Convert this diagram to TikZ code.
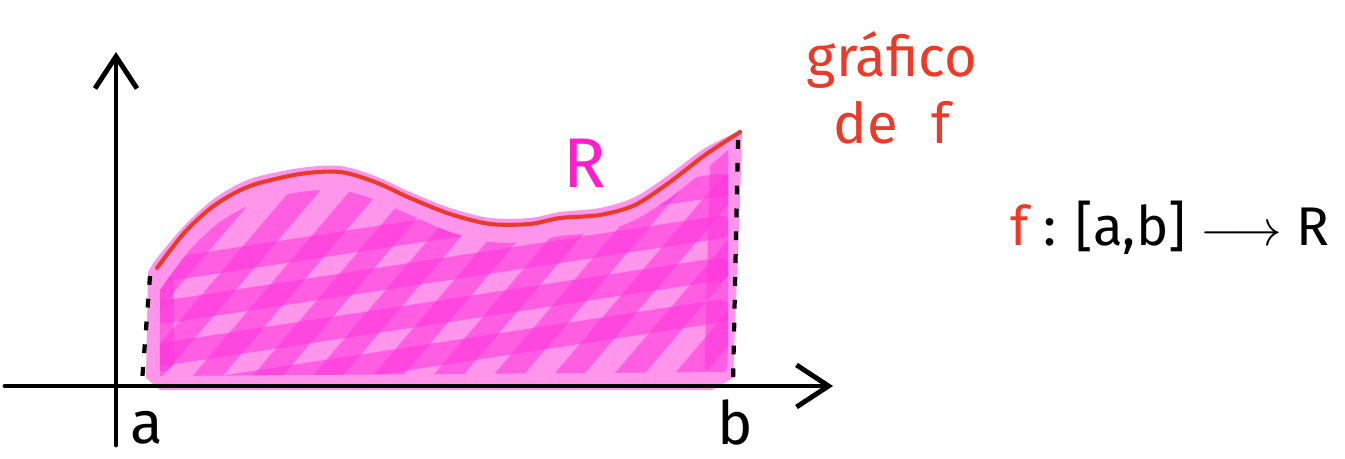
\documentclass[tikz,border=0pt]{standalone}
\usepackage{fontspec}
\setmainfont{Fira Sans}
\usepackage{tikz}
\usetikzlibrary{
  arrows.meta,
  positioning
}
\definecolor{areapink}{RGB}{255, 150, 236}
\definecolor{scribblepink}{RGB}{255, 55, 220}
\definecolor{curvered}{RGB}{236, 58, 40}
\definecolor{labelmagenta}{RGB}{255, 30, 205}

\tikzset{
  axisline/.style={line width=1.4pt, line cap=round, -{Straight Barb[length=3.2mm, width=4.2mm]}},
  boundline/.style={line width=1.2pt, dash pattern=on 2.5pt off 4pt},
  scribble/.style={scribblepink, opacity=0.6, line width=6.5pt, line cap=round, line join=round},
  handlabel/.style={inner sep=0pt, font=\fontsize{17}{17}\selectfont}
}

\begin{document}
\begin{tikzpicture}[x=0.1mm, y=-0.1mm]
  \useasboundingbox (0, 0) rectangle (1345, 459);
  % region under the graph
  \fill[areapink] plot[smooth] coordinates {(148, 272) (157, 258) (185, 225) (215, 198) (250, 179) (300, 168) (340, 166) (375, 176) (410, 192) (450, 208) (490, 218) (530, 218) (560, 212) (600, 208) (635, 197) (670, 174) (705, 148) (742, 130)}
    -- (740, 200) -- (733, 378) -- (712, 390) -- (160, 390) -- (146, 378) -- cycle;
  \begin{scope}
    \clip plot[smooth] coordinates {(160, 290) (190, 250) (220, 222) (255, 203) (300, 192) (340, 190) (375, 200) (410, 215) (450, 232) (490, 242) (530, 242) (560, 236) (600, 232) (635, 220) (670, 198) (705, 170) (728, 150)}
      -- (728, 372) -- (160, 376) -- cycle;
    \foreach \x in {80, 140, ..., 700} {
      \draw[scribble] (\x, 385) -- (\x+170, 185);
    }
    \foreach \y in {230, 272, ..., 375} {
      \draw[scribble] (165, \y+40) -- (720, \y-45);
    }
    \draw[scribble] (163, 360) -- (163, 285);
    \draw[scribble] (716, 365) -- (722, 150);
  \end{scope}
  % graph of f
  \draw[curvered, line width=1.15pt, line cap=round] plot[smooth] coordinates {(157, 268) (185, 232) (215, 205) (250, 186) (300, 174) (340, 172) (375, 182) (410, 198) (450, 214) (490, 224) (530, 224) (560, 218) (600, 215) (635, 205) (670, 182) (705, 155) (740, 132)};
  % axes
  \coordinate (xstart) at (5, 386);
  \coordinate (xend) at (833, 386);
  \coordinate (ystart) at (116, 445);
  \coordinate (yend) at (116, 52);
  \draw[axisline] (xstart) -- (xend);
  \draw[axisline] (ystart) -- (yend);
  % bounds a and b
  \coordinate (atop) at (150, 276);
  \coordinate (abot) at (142, 382);
  \coordinate (btop) at (738, 140);
  \coordinate (bbot) at (733, 382);
  \draw[boundline] (atop) -- (abot);
  \draw[boundline] (btop) -- (bbot);
  \node[handlabel] (lbla) at (147, 428) {a};
  \node[handlabel] (lblb) at (735, 422) {b};
  \node[handlabel, labelmagenta, font=\fontsize{20}{20}\selectfont] (lblR) at (585, 163) {R};
  \node[handlabel, curvered, align=center, font=\fontsize{16}{19}\selectfont] (graphlbl) at (892, 88) {gráfico\\de\hspace{0.6em}f};
  \node[handlabel, font=\fontsize{15.5}{15.5}\selectfont] (maplbl) at (1170, 228) {{\color{curvered}f} : [a,b] $\longrightarrow$ R};
\end{tikzpicture}
\end{document}
